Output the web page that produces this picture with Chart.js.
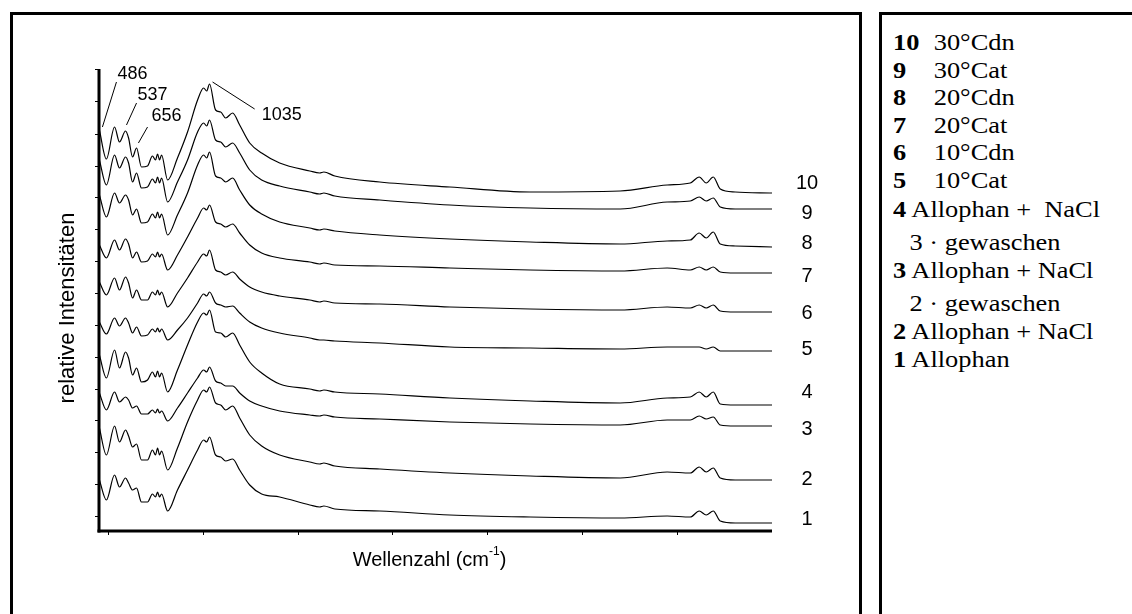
<!DOCTYPE html>
<html lang="de">
<head>
  <meta charset="UTF-8" />
  <title>IR-Spektren Allophan</title>
  <script src="https://cdn.jsdelivr.net/npm/chart.js"></script>
  <style>
    body {
      margin: 0;
      width: 1132px;
      height: 614px;
      overflow: hidden;
      background: #fff;
      position: relative;
    }
    .frame {
      position: absolute;
      top: 12px;
      height: 700px;
      border: 3px solid #000;
      box-sizing: border-box;
    }
    #leftFrame { left: 10px; width: 852px; }
    #rightFrame { left: 879px; width: 400px; }
    #legendText {
      position: absolute;
      left: 11px;
      top: 14px;
      transform: scaleX(1.1);
      transform-origin: 0 0;
      font-family: "Liberation Serif", "Times New Roman", serif;
      font-size: 24px;
      line-height: 27.5px;
      color: #000;
    }
    #legendText div { white-space: pre; }
    #legendText .num { display: inline-block; width: 37px; }
    #legendText .sub { padding-left: 15px; }
    #spectra { position: absolute; left: 0; top: 0; z-index: 2; }
  </style>
</head>
<body>
  <div class="frame" id="leftFrame"></div>
  <div class="frame" id="rightFrame"><div id="legendText"></div></div>
  <canvas id="spectra" width="860" height="614"></canvas>

  <script>
    // Wellenzahl (cm-1), common sampling for all spectra
    const wavenumbers = [452, 489, 532, 558, 590, 606, 627, 648, 674, 706,
      732, 748, 759, 769, 780, 812, 864, 917, 970, 1002, 1018, 1033,
      1065, 1092, 1118, 1155, 1192, 1245, 1308, 1403, 1562, 1614, 1636, 1694,
      1931, 2301, 2724, 3199, 3447, 3569, 3616, 3653, 3690, 3727, 3806, 4000];

    // relative intensities incl. stacking offset, spectrum 1 (bottom) .. 10 (top)
    const spec1 = [71, 51, 76, 64, 73, 68, 61, 63, 49, 49, 57, 54, 59, 54, 57, 40,
      61, 81, 101, 111, 109, 114, 96, 94, 90, 92, 81, 66, 57, 54, 46, 44, 45, 42,
      40, 36, 34, 33, 35, 34, 40, 36, 40, 30, 28, 28];
    const spec2 = [123, 96, 125, 109, 121, 115, 104, 107, 91, 91, 101, 96, 103, 96, 100, 81,
      103, 129, 151, 161, 159, 164, 148, 146, 141, 145, 133, 116, 105, 96, 89, 87, 88, 85,
      82, 78, 75, 73, 79, 78, 84, 79, 83, 73, 71, 71];
    const spec3 = [158, 141, 159, 149, 154, 151, 143, 145, 137, 137, 141, 138, 142, 138, 140, 130,
      143, 158, 173, 181, 179, 184, 170, 168, 165, 165, 158, 150, 145, 140, 136, 135, 136, 134,
      132, 129, 127, 126, 131, 131, 135, 132, 134, 126, 125, 125];
    const spec4 = [196, 173, 201, 183, 199, 193, 176, 183, 169, 171, 179, 174, 180, 174, 178, 159,
      181, 206, 229, 238, 236, 241, 219, 218, 214, 218, 206, 189, 178, 167, 162, 160, 161, 159,
      157, 153, 150, 148, 153, 154, 159, 154, 159, 147, 146, 146];
    const spec5 = [229, 217, 233, 225, 233, 228, 218, 224, 215, 216, 222, 219, 223, 219, 222, 211,
      221, 233, 248, 257, 255, 259, 248, 246, 244, 245, 238, 229, 223, 218, 213, 211, 211, 210,
      208, 204, 203, 202, 204, 204, 204, 202, 204, 200, 200, 200];
    const spec6 = [269, 256, 273, 261, 274, 268, 253, 261, 251, 251, 259, 256, 261, 256, 259, 244,
      258, 273, 289, 297, 295, 301, 281, 279, 276, 279, 272, 264, 259, 255, 251, 249, 250, 248,
      247, 244, 242, 241, 244, 243, 246, 243, 246, 240, 239, 239];
    const spec7 = [306, 293, 311, 301, 312, 307, 293, 299, 289, 290, 297, 294, 299, 294, 297, 281,
      296, 314, 333, 343, 341, 346, 329, 327, 324, 327, 318, 306, 298, 293, 289, 287, 288, 286,
      285, 283, 281, 280, 283, 281, 284, 281, 284, 279, 278, 278];
    const spec8 = [356, 334, 358, 348, 356, 351, 336, 342, 328, 329, 337, 333, 339, 333, 337, 316,
      336, 358, 386, 396, 393, 399, 375, 373, 369, 373, 361, 346, 337, 329, 323, 321, 322, 320,
      316, 312, 309, 307, 310, 311, 318, 313, 319, 307, 305, 304];
    const spec9 = [391, 366, 396, 383, 394, 388, 369, 378, 363, 364, 372, 368, 374, 368, 373, 349,
      369, 391, 419, 428, 425, 431, 411, 409, 404, 408, 398, 381, 371, 365, 359, 357, 358, 355,
      351, 346, 343, 342, 349, 350, 354, 350, 353, 344, 342, 342];
    const spec10 = [421, 392, 424, 409, 420, 413, 394, 403, 384, 385, 395, 391, 397, 391, 396, 371,
      393, 419, 451, 463, 460, 467, 441, 439, 433, 438, 426, 408, 398, 388, 380, 378, 379, 375,
      369, 364, 359, 360, 366, 368, 374, 368, 374, 362, 359, 358];

    const spectra = [spec1, spec2, spec3, spec4, spec5, spec6, spec7, spec8, spec9, spec10];
    const curveNumbers = ['1', '2', '3', '4', '5', '6', '7', '8', '9', '10'];
    const curveLabelLevels = [32, 72, 122, 159, 202, 238, 275, 308, 338, 368];

    const sampleNames = ['Allophan', 'Allophan + NaCl', 'Allophan + NaCl', 'Allophan +  NaCl',
      '10°Cat', '10°Cdn', '20°Cat', '20°Cdn', '30°Cat', '30°Cdn'];
    const washNotes = ['', '', '2 · gewaschen', '3 · gewaschen', '', '', '', '', '', ''];

    // peak annotations: label, leader start (on curve) and end, text anchor
    const peakLabels = ['486', '537', '656', '1035'];
    const leaderFromX = [468, 595, 658, 1049];
    const leaderFromY = [424, 426, 408, 469];
    const leaderToX = [542, 648, 706, 1271];
    const leaderToY = [469, 448, 424, 442];
    const peakTextX = [548, 653, 727, 1308];
    const peakTextY = [477, 456, 435, 436];

    const xTicks = [500, 1000, 1500, 2000, 2500, 3000, 3500];
    const yTicks = [35, 67, 99, 131, 162, 194, 226, 258, 290, 322, 354, 385, 417, 449, 481];

    // legend panel on the right, listed from 10 down to 1
    const panel = document.getElementById('legendText');
    const extraGap = { 4: 2, 3: 0.5, 2: 0.5, 1: 0.5 };
    for (let i = spectra.length - 1; i >= 0; i--) {
      const row = document.createElement('div');
      if (i >= 4) {
        row.innerHTML = '<b class="num">' + curveNumbers[i] + '</b>' + sampleNames[i];
      } else {
        row.innerHTML = '<b>' + curveNumbers[i] + '</b> ' + sampleNames[i];
      }
      if (extraGap[i + 1]) row.style.marginTop = extraGap[i + 1] + 'px';
      panel.appendChild(row);
      if (washNotes[i]) {
        const note = document.createElement('div');
        note.className = 'sub';
        note.style.marginTop = (i === 3 ? 5 : 6) + 'px';
        note.textContent = washNotes[i];
        panel.appendChild(note);
      }
    }

    const sansFont = '"Liberation Sans", Arial, sans-serif';

    const overlay = {
      id: 'overlay',
      afterDraw(chart) {
        const ctx = chart.ctx;
        const area = chart.chartArea;
        const x = chart.scales.x, y = chart.scales.y;
        ctx.save();
        ctx.fillStyle = '#000';
        ctx.strokeStyle = '#000';

        // thick axis lines (L shape)
        ctx.fillRect(area.left - 1.5, area.top, 3, area.bottom - area.top + 1.5);
        ctx.fillRect(area.left - 1.5, area.bottom - 1.5, area.right - area.left + 1.5, 3);

        ctx.lineWidth = 1;
        ctx.font = '18px ' + sansFont;
        ctx.textBaseline = 'middle';
        ctx.textAlign = 'left';
        peakLabels.forEach((t, i) => {
          ctx.beginPath();
          ctx.moveTo(x.getPixelForValue(leaderFromX[i]), y.getPixelForValue(leaderFromY[i]));
          ctx.lineTo(x.getPixelForValue(leaderToX[i]), y.getPixelForValue(leaderToY[i]));
          ctx.stroke();
          ctx.fillText(t, x.getPixelForValue(peakTextX[i]), y.getPixelForValue(peakTextY[i]));
        });

        // curve numbers at the right end
        ctx.font = '20px ' + sansFont;
        ctx.textAlign = 'center';
        curveNumbers.forEach((t, i) => {
          ctx.fillText(t, area.right + 35, y.getPixelForValue(curveLabelLevels[i]));
        });

        // y title
        ctx.save();
        ctx.font = '22px ' + sansFont;
        ctx.translate(area.left - 31, (area.top + area.bottom) / 2 + 8);
        ctx.rotate(-Math.PI / 2);
        ctx.fillText('relative Intensitäten', 0, 0);
        ctx.restore();

        // x title with superscript
        const main = 'Wellenzahl (cm', sup = '-1', close = ')';
        ctx.font = '20px ' + sansFont;
        const w1 = ctx.measureText(main).width, w3 = ctx.measureText(close).width;
        ctx.font = '12px ' + sansFont;
        const w2 = ctx.measureText(sup).width;
        const tx = (area.left + area.right) / 2 - 6 - (w1 + w2 + w3) / 2;
        const ty = area.bottom + 29;
        ctx.textAlign = 'left';
        ctx.font = '20px ' + sansFont;
        ctx.fillText(main, tx, ty);
        ctx.font = '12px ' + sansFont;
        ctx.fillText(sup, tx + w1, ty - 8);
        ctx.font = '20px ' + sansFont;
        ctx.fillText(close, tx + w1 + w2, ty);
        ctx.restore();
      }
    };

    const axisStyle = {
      ticks: { display: false },
      grid: { drawOnChartArea: false, drawTicks: true, tickLength: 4, color: '#000', lineWidth: 1 },
      border: { display: false }
    };

    new Chart(document.getElementById('spectra'), {
      type: 'line',
      data: {
        datasets: spectra.map((s, k) => ({
          label: curveNumbers[k],
          data: wavenumbers.map((w, i) => ({ x: w, y: s[i] })),
          borderColor: '#000',
          borderWidth: 1.2,
          pointRadius: 0,
          cubicInterpolationMode: 'monotone',
          fill: false
        }))
      },
      options: {
        responsive: false,
        animation: false,
        layout: { padding: { left: 95, right: 88, top: 69, bottom: 79 } },
        plugins: { legend: { display: false }, tooltip: { enabled: false } },
        scales: {
          x: Object.assign({
            type: 'linear', min: 450, max: 4000,
            afterBuildTicks: s => { s.ticks = xTicks.map(v => ({ value: v })); }
          }, axisStyle),
          y: Object.assign({
            type: 'linear', min: 20, max: 482,
            afterBuildTicks: s => { s.ticks = yTicks.map(v => ({ value: v })); }
          }, axisStyle)
        }
      },
      plugins: [overlay]
    });
  </script>
</body>
</html>
